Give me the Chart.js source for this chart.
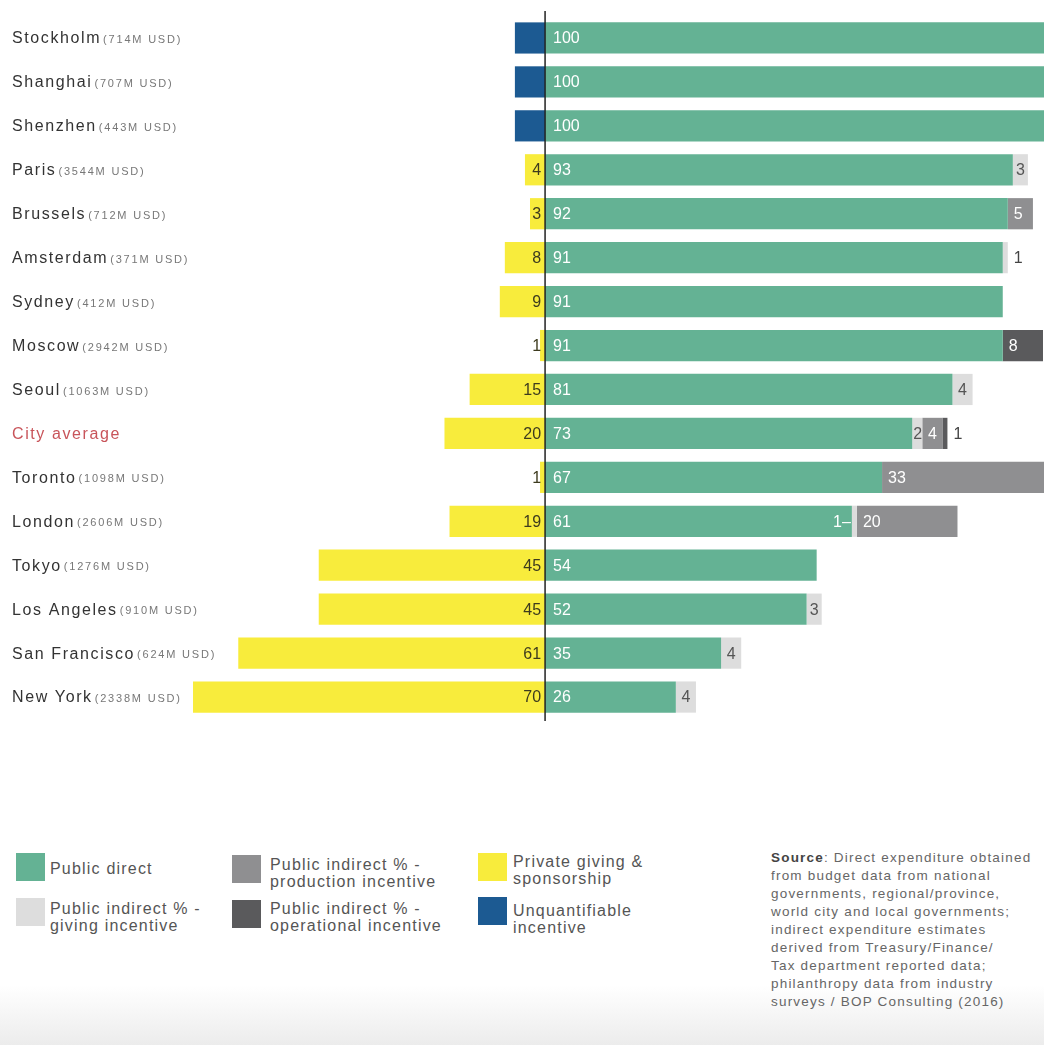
<!DOCTYPE html>
<html>
<head>
<meta charset="utf-8">
<script src="https://cdn.jsdelivr.net/npm/chart.js@4.4.1/dist/chart.umd.min.js"></script>
<style>
  body { margin: 0; background: #fff; font-family: "Liberation Sans", Arial, sans-serif; }
  #page { position: relative; width: 1044px; height: 1045px; overflow: hidden; background: #fff; }
  #chart { position: absolute; left: 0; top: 0; width: 1044px; height: 725px; }
  .sw { position: absolute; width: 29px; height: 28px; }
  .lg { position: absolute; font-size: 16px; line-height: 17px; letter-spacing: 1.2px; color: #555; }
  #source { position: absolute; left: 771px; top: 849px; font-size: 13.5px; line-height: 18px;
            letter-spacing: 1.2px; color: #666; white-space: nowrap; }
  #source b { color: #444; }
  #shade { position: absolute; left: 0; right: 0; top: 985px; bottom: 0;
           background: linear-gradient(#fff, #ececec); }
</style>
</head>
<body>
<div id="page">
  <div id="shade"></div>
  <div id="chart"><canvas id="c"></canvas></div>

  <div class="sw" style="left:16px;top:853px;background:#64b294"></div>
  <div class="lg" style="left:50px;top:860px">Public direct</div>
  <div class="sw" style="left:16px;top:898px;background:#dddddd"></div>
  <div class="lg" style="left:50px;top:900px">Public indirect % -<br>giving incentive</div>

  <div class="sw" style="left:232px;top:855px;background:#8f8f91"></div>
  <div class="lg" style="left:270px;top:856px">Public indirect % -<br>production incentive</div>
  <div class="sw" style="left:232px;top:900px;background:#5a5a5c"></div>
  <div class="lg" style="left:270px;top:900px">Public indirect % -<br>operational incentive</div>

  <div class="sw" style="left:478px;top:853px;background:#f8ec3c"></div>
  <div class="lg" style="left:513px;top:853px">Private giving &amp;<br>sponsorship</div>
  <div class="sw" style="left:478px;top:897px;background:#1c5a92"></div>
  <div class="lg" style="left:513px;top:902px">Unquantifiable<br>incentive</div>

  <div id="source"><b>Source</b>: Direct expenditure obtained<br>from budget data from national<br>governments, regional/province,<br>world city and local governments;<br>indirect expenditure estimates<br>derived from Treasury/Finance/<br>Tax department reported data;<br>philanthropy data from industry<br>surveys / BOP Consulting (2016)</div>
</div>

<script>
const cities = ["Stockholm", "Shanghai", "Shenzhen", "Paris", "Brussels", "Amsterdam", "Sydney", "Moscow",
  "Seoul", "City average", "Toronto", "London", "Tokyo", "Los Angeles", "San Francisco", "New York"];
const budgets = ["714M USD", "707M USD", "443M USD", "3544M USD", "712M USD", "371M USD", "412M USD", "2942M USD",
  "1063M USD", "", "1098M USD", "2606M USD", "1276M USD", "910M USD", "624M USD", "2338M USD"];

const publicDirect = [100, 100, 100, 93, 92, 91, 91, 91, 81, 73, 67, 61, 54, 52, 35, 26];
const givingIncentive = [0, 0, 0, 3, 0, 1, 0, 0, 4, 2, 0, 1, 0, 3, 4, 4];
const productionIncentive = [0, 0, 0, 0, 5, 0, 0, 0, 0, 4, 33, 20, 0, 0, 0, 0];
const operationalIncentive = [0, 0, 0, 0, 0, 0, 0, 8, 0, 1, 0, 0, 0, 0, 0, 0];
const privateGiving = [0, 0, 0, 4, 3, 8, 9, 1, 15, 20, 1, 19, 45, 45, 61, 70];
// no number is printed for this one, width read off the bars
const unquantifiable = [6, 6, 6, 0, 0, 0, 0, 0, 0, 0, 0, 0, 0, 0, 0, 0];

const FONT = '"Liberation Sans", Arial, sans-serif';

const labelPlugin = {
  id: "barLabels",
  afterDatasetsDraw(chart) {
    const ctx = chart.ctx;
    const area = chart.chartArea;
    const x0 = chart.scales.x.getPixelForValue(0);
    ctx.save();
    ctx.textBaseline = "middle";
    ctx.font = "16px " + FONT;

    chart.data.datasets.forEach((ds, di) => {
      if (!ds.labelMode) return;
      const meta = chart.getDatasetMeta(di);
      meta.data.forEach((el, j) => {
        const v = Math.abs(ds.data[j]);
        if (!v) return;
        const txt = String(v);
        const start = Math.min(el.x, el.base);
        const end = Math.max(el.x, el.base);
        const w = end - start;
        const y = el.y + 1;
        if (ds.labelMode === "left") {
          ctx.textAlign = "right";
          ctx.fillStyle = "#3d3b1e";
          ctx.fillText(txt, x0 - 4, y);
        } else if (ds.labelMode === "start") {
          ctx.textAlign = "left";
          ctx.fillStyle = "#fff";
          ctx.fillText(txt, start + 8, y);
        } else {
          const tw = ctx.measureText(txt).width;
          ctx.textAlign = "left";
          if (w >= tw) {
            ctx.fillStyle = ds.labelColor;
            ctx.fillText(txt, start + Math.max(1, Math.min(6, (w - tw) / 2)), y);
          } else {
            const later = chart.data.datasets.slice(di + 1)
              .some(d => d.labelMode === "grey" && d.data[j] > 0);
            if (later) {
              ctx.textAlign = "right";
              ctx.fillStyle = "#fff";
              ctx.fillText(txt + "\u2013", start - 1, y);
            } else {
              ctx.fillStyle = "#444";
              ctx.fillText(txt, Math.min(end + 6, area.right - tw), y);
            }
          }
        }
      });
    });

    // zero line
    ctx.strokeStyle = "#222";
    ctx.lineWidth = 1.5;
    ctx.beginPath();
    ctx.moveTo(x0, area.top - 5);
    ctx.lineTo(x0, area.bottom + 2);
    ctx.stroke();

    // city names + budgets
    const ys = chart.scales.y;
    ctx.textAlign = "left";
    cities.forEach((name, i) => {
      const y = ys.getPixelForValue(i) + 1;
      ctx.letterSpacing = "1.6px";
      ctx.font = "16px " + FONT;
      ctx.fillStyle = name === "City average" ? "#c8545a" : "#333";
      ctx.fillText(name, 12, y);
      const nw = ctx.measureText(name).width;
      if (budgets[i]) {
        ctx.letterSpacing = "1.8px";
        ctx.font = "11px " + FONT;
        ctx.fillStyle = "#777";
        ctx.fillText("(" + budgets[i] + ")", 12 + nw + 2, y + 1);
      }
    });
    ctx.restore();
  }
};

new Chart(document.getElementById("c"), {
  type: "bar",
  data: {
    labels: cities,
    datasets: [
      { label: "Public direct", data: publicDirect, backgroundColor: "#64b294", labelMode: "start" },
      { label: "Public indirect % - giving incentive", data: givingIncentive, backgroundColor: "#dddddd",
        labelMode: "grey", labelColor: "#555" },
      { label: "Public indirect % - production incentive", data: productionIncentive, backgroundColor: "#8f8f91",
        labelMode: "grey", labelColor: "#fff" },
      { label: "Public indirect % - operational incentive", data: operationalIncentive, backgroundColor: "#5a5a5c",
        labelMode: "grey", labelColor: "#fff" },
      { label: "Private giving & sponsorship", data: privateGiving.map(v => -v), backgroundColor: "#f8ec3c",
        labelMode: "left" },
      { label: "Unquantifiable incentive", data: unquantifiable.map(v => -v), backgroundColor: "#1c5a92" },
    ],
  },
  options: {
    indexAxis: "y",
    animation: false,
    responsive: true,
    maintainAspectRatio: false,
    layout: { padding: { left: 193, right: 0, top: 16, bottom: 6 } },
    datasets: { bar: { barPercentage: 0.71, categoryPercentage: 1, borderWidth: 0 } },
    plugins: { legend: { display: false }, tooltip: { enabled: false } },
    scales: {
      x: { type: "linear", stacked: true, min: -70, max: 99.2, display: false },
      y: { stacked: true, display: false },
    },
  },
  plugins: [labelPlugin],
});
</script>
</body>
</html>
